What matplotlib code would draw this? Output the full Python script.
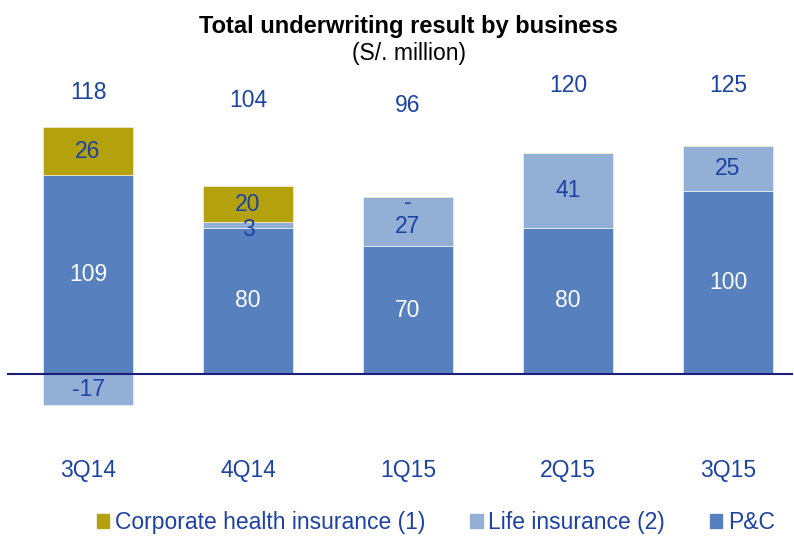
import numpy as np
import matplotlib.pyplot as plt
from matplotlib.patches import Patch

plt.rcParams['font.family'] = ['Liberation Sans', 'DejaVu Sans']

quarters = ['3Q14', '4Q14', '1Q15', '2Q15', '3Q15']
pc = [109, 80, 70, 80, 100]
life = [-17, 3, 27, 41, 25]
health = [26, 20, 0, 0, 0]
totals = [118, 104, 96, 120, 125]
# height (in data units) where each total label sits
total_y = [154, 150, 147, 158, 158]

c_pc = '#5680be'
c_life = '#94afd6'
c_health = '#b3a20d'
c_text = '#1c42a3'
c_axis = '#1c1f78'

fig = plt.figure(figsize=(7.94, 5.36), dpi=100)
ax = fig.add_axes([0, 0, 1, 1])
ax.set_xlim(-0.55, 4.4125)
ax.set_ylim(-88.7, 204.8)
ax.axis('off')

x = np.arange(len(quarters))
w = 0.5625
ax.bar(x, pc, w, color=c_pc, edgecolor='#dfe6f2', linewidth=0.6, zorder=2)
life_bottom = [p if l >= 0 else 0 for p, l in zip(pc, life)]
ax.bar(x, life, w, bottom=life_bottom, color=c_life, edgecolor='#e6ecf5', linewidth=0.6, zorder=2)
health_bottom = [p + max(l, 0) for p, l in zip(pc, life)]
ax.bar(x, health, w, bottom=health_bottom, color=c_health, edgecolor='#eeeacc', linewidth=0.6, zorder=2)

ax.plot([-0.5, 4.4], [0, 0], color=c_axis, lw=1.5, zorder=3)

fs = 16.5
for i in range(len(quarters)):
    ax.text(x[i], pc[i] / 2, str(pc[i]), ha='center', va='center', color='white', fontsize=fs, zorder=4)
    lb = life_bottom[i]
    nudge = -2.5 if i in (1, 2) else 0
    ax.text(x[i], lb + life[i] / 2 + nudge, str(life[i]), ha='center', va='center',
            color=c_text, fontsize=fs, zorder=4)
    hb = health_bottom[i]
    if health[i] > 0:
        ax.text(x[i], hb + health[i] / 2, str(health[i]), ha='center', va='center', color=c_text, fontsize=fs, zorder=4)
    elif i == 2:
        ax.text(x[i], hb - 3, '-', ha='center', va='center', color=c_text, fontsize=fs, zorder=4)
    ax.text(x[i], total_y[i], str(totals[i]), ha='center', va='center', color=c_text, fontsize=fs)
    ax.text(x[i], -52.6, quarters[i], ha='center', va='center', color=c_text, fontsize=fs)

fig.text(0.515, 0.95, 'Total underwriting result by business', ha='center', va='center',
         fontsize=17, fontweight='bold', color='black')
fig.text(0.515, 0.901, '(S/. million)', ha='center', va='center', fontsize=16.5, color='black')

handles = [Patch(color=c_health, label='Corporate health insurance (1)'),
           Patch(color=c_life, label='Life insurance (2)'),
           Patch(color=c_pc, label='P&C')]
leg = fig.legend(handles=handles, loc='center', bbox_to_anchor=(0.549, 0.025), ncol=3, frameon=False,
                 handlelength=0.55, handleheight=0.55, handletextpad=0.25, columnspacing=1.95,
                 fontsize=16.5)
for t in leg.get_texts():
    t.set_color(c_text)

plt.savefig('out.png', dpi=100)
